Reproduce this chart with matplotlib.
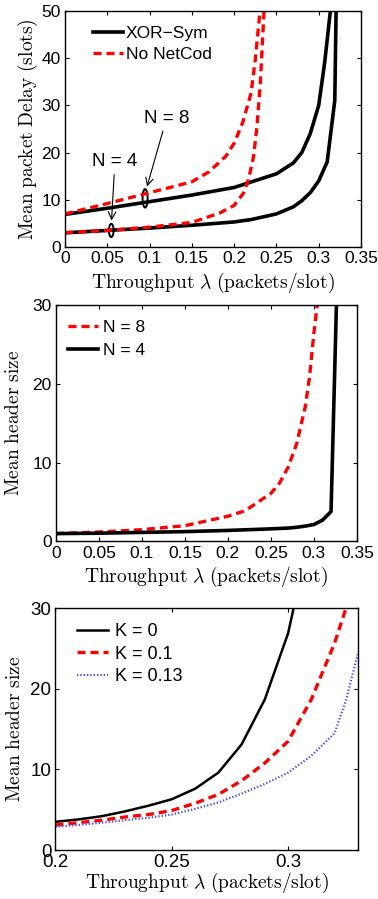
"""
Three stacked panels: packet delay and header size vs throughput.
Saves out.png (378x899 px).
"""

import matplotlib
matplotlib.use("Agg")
import matplotlib.pyplot as plt
from matplotlib.patches import Ellipse

plt.rcParams["font.family"] = ["Liberation Sans", "DejaVu Sans"]
plt.rcParams["mathtext.fontset"] = "cm"

# ── data: panel 1 (mean packet delay) ─────────────────────────────────────────
lam_xor8 = [0, 0.05, 0.1, 0.15, 0.2, 0.25, 0.27, 0.28, 0.29, 0.3, 0.307, 0.32]
delay_xor8 = [6.9, 8.2, 9.6, 11.0, 12.6, 15.5, 17.8, 20.0, 24.0, 30.0, 39.0, 60]

lam_xor4 = [0, 0.05, 0.1, 0.15, 0.2, 0.22, 0.25, 0.27, 0.28, 0.29, 0.3, 0.31,
            0.319, 0.323]
delay_xor4 = [3.0, 3.5, 4.0, 4.6, 5.3, 5.8, 7.0, 8.5, 9.8, 11.5, 14.0, 18.0,
              31.0, 80]

lam_noc8 = [0, 0.05, 0.1, 0.15, 0.17, 0.19, 0.2, 0.21, 0.22, 0.225, 0.23, 0.235]
delay_noc8 = [7.0, 9.2, 11.5, 13.8, 15.9, 19.2, 22.0, 26.3, 32.6, 39.7, 48.9, 70]

lam_noc4 = [0, 0.05, 0.1, 0.15, 0.183, 0.2, 0.211, 0.217, 0.223, 0.227, 0.231,
            0.235, 0.24]
delay_noc4 = [3.0, 3.5, 4.2, 5.2, 7.2, 8.8, 11.4, 14.3, 19.2, 25.6, 34.8, 48.9, 70]

# ── data: panel 2 (mean header size, N = 8 / N = 4) ──────────────────────────
lam_h8 = [0, 0.05, 0.1, 0.15, 0.2, 0.22, 0.25, 0.26, 0.27, 0.28, 0.29, 0.295,
          0.3, 0.305]
hdr_h8 = [1.0, 1.2, 1.5, 2.0, 3.2, 3.9, 6.1, 7.4, 9.4, 12.4, 17.1, 20.9, 26.4, 31]

lam_h4 = [0, 0.05, 0.1, 0.15, 0.2, 0.25, 0.27, 0.28, 0.29, 0.3, 0.31, 0.32, 0.3265]
hdr_h4 = [1.0, 1.05, 1.15, 1.25, 1.4, 1.6, 1.7, 1.8, 1.95, 2.15, 2.7, 3.8, 31]

# ── data: panel 3 (mean header size vs K) ─────────────────────────────────────
lam_k0 = [0.2, 0.21, 0.22, 0.23, 0.24, 0.25, 0.26, 0.27, 0.28, 0.29, 0.3, 0.31]
hdr_k0 = [3.5, 3.8, 4.2, 4.8, 5.5, 6.3, 7.6, 9.6, 13.1, 18.7, 26.9, 40]

lam_k01 = [0.2, 0.21, 0.22, 0.23, 0.24, 0.25, 0.26, 0.27, 0.28, 0.29, 0.3, 0.31,
           0.32, 0.33]
hdr_k01 = [3.1, 3.4, 3.7, 4.1, 4.4, 4.9, 5.8, 6.9, 8.6, 10.8, 13.5, 18.7, 25.7, 34.5]

lam_k013 = [0.2, 0.21, 0.22, 0.23, 0.24, 0.25, 0.26, 0.27, 0.28, 0.29, 0.3, 0.31,
            0.32, 0.325, 0.33]
hdr_k013 = [2.9, 3.1, 3.4, 3.7, 4.0, 4.4, 5.1, 5.9, 7.0, 8.2, 9.6, 11.7, 14.5,
            18.7, 24.4]

# ── tick labels ───────────────────────────────────────────────────────────────
xticks_full = [0, 0.05, 0.1, 0.15, 0.2, 0.25, 0.3, 0.35]
xticklabels_full = ["0", "0.05", "0.1", "0.15", "0.2", "0.25", "0.3", "0.35"]
xticks_zoom = [0.2, 0.25, 0.3]
xticklabels_zoom = ["0.2", "0.25", "0.3"]
yticks_delay = [0, 10, 20, 30, 40, 50]
yticks_hdr = [0, 10, 20, 30]

XLABEL = r"$\mathrm{Throughput}\ \lambda\ \mathrm{(packets/slot)}$"
RED = "#ff0000"
BLUE = "#4a4aff"
DASH = (2.4, 1.5)


def style_axes(ax, xticks, xlabels, yticks, fs):
    ax.set_xticks(xticks)
    ax.set_xticklabels(xlabels)
    ax.set_yticks(yticks)
    ax.set_yticklabels([str(v) for v in yticks])
    ax.tick_params(direction="in", top=True, right=True, length=3, width=0.8,
                   labelsize=fs, pad=3)
    for s in ax.spines.values():
        s.set_linewidth(1.0)


fig = plt.figure(figsize=(3.78, 8.99), dpi=100)

# ── panel 1 ───────────────────────────────────────────────────────────────────
ax1 = fig.add_axes([0.172, 0.7253, 0.783, 0.2625])
ax1.plot(lam_xor8, delay_xor8, color="black", lw=2.6, label="XOR\u2212Sym")
ax1.plot(lam_noc8, delay_noc8, color=RED, lw=2.4, dashes=DASH, label="No NetCod")
ax1.plot(lam_xor4, delay_xor4, color="black", lw=2.6)
ax1.plot(lam_noc4, delay_noc4, color=RED, lw=2.4, dashes=DASH)
ax1.set_xlim(0, 0.35)
ax1.set_ylim(0, 50)
style_axes(ax1, xticks_full, xticklabels_full, yticks_delay, 12.5)

ax1.add_patch(Ellipse((0.0547, 3.5), 0.0055, 2.8, fill=False, lw=1.4, ec="black"))
ax1.add_patch(Ellipse((0.0947, 10.3), 0.006, 3.9, fill=False, lw=1.4, ec="black"))
arrow = dict(arrowstyle="->", lw=0.8, color="black", shrinkA=1, shrinkB=0)
ax1.annotate("N = 4", xy=(0.055, 5.6), xytext=(0.059, 18.0), ha="center",
             va="center", fontsize=13.5, arrowprops=arrow)
ax1.annotate("N = 8", xy=(0.097, 12.8), xytext=(0.120, 27.2), ha="center",
             va="center", fontsize=13.5, arrowprops=arrow)

ax1.legend(loc="upper left", frameon=False, fontsize=12.5, handlelength=1.7,
           handletextpad=0.15, borderaxespad=0.3, labelspacing=0.35,
           bbox_to_anchor=(0.055, 0.99))
ax1.set_xlabel(XLABEL, fontsize=14)
ax1.set_ylabel(r"$\mathrm{Mean\ packet\ Delay\ (slots)}$", fontsize=14)
ax1.xaxis.set_label_coords(0.5, -0.1)
ax1.yaxis.set_label_coords(-0.085, 0.5)

# ── panel 2 ───────────────────────────────────────────────────────────────────
ax2 = fig.add_axes([0.148, 0.3977, 0.796, 0.263])
ax2.plot(lam_h8, hdr_h8, color=RED, lw=2.4, dashes=DASH, label="N = 8")
ax2.plot(lam_h4, hdr_h4, color="black", lw=2.6, label="N = 4")
ax2.set_xlim(0, 0.35)
ax2.set_ylim(0, 30)
style_axes(ax2, xticks_full, xticklabels_full, yticks_hdr, 12.5)
ax2.legend(loc="upper left", frameon=False, fontsize=12.5, handlelength=1.7,
           handletextpad=0.3, borderaxespad=0.3, labelspacing=0.45,
           bbox_to_anchor=(0.0, 0.99))
ax2.set_xlabel(XLABEL, fontsize=14)
ax2.set_ylabel(r"$\mathrm{Mean\ header\ size}$", fontsize=14)
ax2.xaxis.set_label_coords(0.5, -0.1)
ax2.yaxis.set_label_coords(-0.11, 0.5)

# ── panel 3 ───────────────────────────────────────────────────────────────────
ax3 = fig.add_axes([0.1468, 0.0545, 0.800, 0.2689])
ax3.plot(lam_k0, hdr_k0, color="black", lw=1.8, label="K = 0")
ax3.plot(lam_k01, hdr_k01, color=RED, lw=2.4, dashes=DASH, label="K = 0.1")
ax3.plot(lam_k013, hdr_k013, color=BLUE, lw=1.6, dashes=(0.6, 0.9),
         label="K = 0.13")
ax3.set_xlim(0.2, 0.33)
ax3.set_ylim(0, 30)
style_axes(ax3, xticks_zoom, xticklabels_zoom, yticks_hdr, 13.5)
ax3.legend(loc="upper left", frameon=False, fontsize=13, handlelength=1.7,
           handletextpad=0.4, borderaxespad=0.3, labelspacing=0.3,
           bbox_to_anchor=(0.03, 0.99))
ax3.set_xlabel(XLABEL, fontsize=14)
ax3.set_ylabel(r"$\mathrm{Mean\ header\ size}$", fontsize=14)
ax3.xaxis.set_label_coords(0.5, -0.088)
ax3.yaxis.set_label_coords(-0.105, 0.5)

fig.savefig("out.png", dpi=100)
